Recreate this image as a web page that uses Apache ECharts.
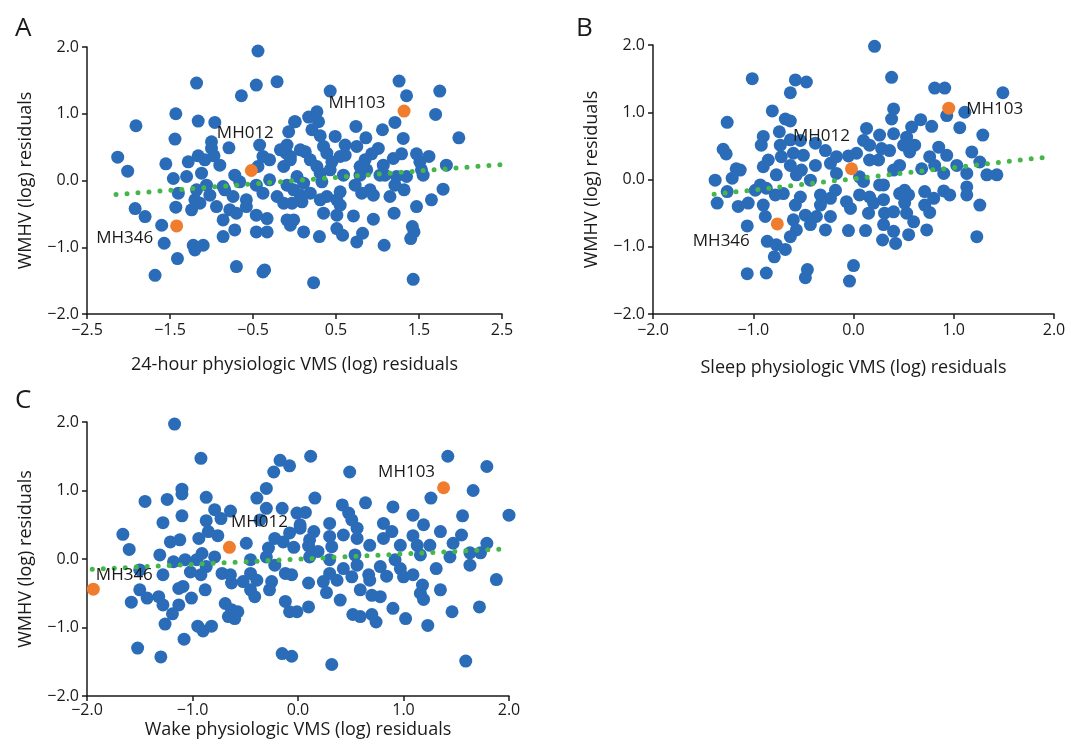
<!DOCTYPE html>
<html lang="en">
<head>
<meta charset="UTF-8">
<title>WMHV residuals vs physiologic VMS residuals</title>
<script src="https://cdn.jsdelivr.net/npm/echarts@6/dist/echarts.min.js"></script>
<style>
  html, body { margin: 0; padding: 0; background: #fff; }
  #chart { width: 1071px; height: 754px; }
</style>
</head>
<body>
<div id="chart"></div>
<script>
// ---- data ----
var aBlue = [
  [-0.44,1.94],[-1.18,1.46],[-0.46,1.43],[-0.21,1.48],[-0.64,1.27],[-1.43,1.00],[-1.91,0.82],[-1.16,0.89],[-0.96,0.87],[-1.44,0.62],
  [-1.00,0.58],[-1.00,0.48],[-0.79,0.49],[-2.13,0.35],[-2.01,0.14],[-1.55,0.25],[-1.28,0.28],[-1.16,0.37],[-0.97,0.37],[-0.42,0.53],
  [-0.38,0.36],[-0.44,0.21],[-0.10,0.41],[-0.09,0.53],[-0.07,0.73],[0.00,0.88],[-0.13,0.21],[-0.05,0.31],[-1.30,0.06],[-1.12,0.11],
  [-1.46,0.03],[1.26,1.49],[0.43,1.34],[1.35,1.27],[1.75,1.34],[1.70,0.99],[1.98,0.64],[1.21,0.87],[1.06,0.76],[1.31,0.63],
  [0.86,0.64],[0.74,0.81],[0.27,1.03],[0.17,0.95],[0.29,0.88],[0.01,0.88],[0.21,0.76],[0.31,0.67],[0.49,0.66],[0.61,0.53],
  [0.75,0.51],[0.35,0.51],[0.39,0.41],[0.13,0.43],[-0.05,0.36],[0.55,0.36],[0.93,0.40],[1.01,0.48],[1.29,0.40],[1.47,0.40],
  [1.62,0.36],[1.19,0.33],[1.51,0.28],[1.83,0.23],[0.27,0.21],[0.79,0.21],[1.07,0.23],[0.45,0.28],[0.87,0.16],[1.53,0.16],
  [0.03,0.06],[0.31,0.11],[0.59,0.08],[1.35,0.06],[-1.06,-0.07],[-1.40,-0.19],[-1.18,-0.14],[-0.86,-0.09],[-0.66,-0.02],[-0.46,-0.07],
  [-0.30,0.01],[-0.09,-0.07],[-0.74,-0.24],[-0.58,-0.29],[-0.38,-0.19],[-0.21,-0.24],[-0.01,-0.14],[-0.94,-0.39],[-0.78,-0.44],[-0.58,-0.39],
  [-1.92,-0.42],[-1.80,-0.54],[-1.43,-0.40],[-1.24,-0.44],[-1.14,-0.34],[-0.86,-0.59],[-0.70,-0.49],[-0.46,-0.52],[-0.33,-0.57],[-0.13,-0.34],
  [-0.09,-0.59],[-1.60,-0.67],[-0.86,-0.84],[-0.72,-0.74],[-0.46,-0.77],[-0.33,-0.77],[-0.05,-0.67],[-1.57,-0.94],[-1.22,-0.97],[-1.10,-0.97],
  [-1.20,-1.04],[-1.41,-1.17],[-0.70,-1.29],[-0.38,-1.37],[-0.36,-1.34],[-1.68,-1.42],[0.11,-0.04],[0.33,-0.02],[0.79,0.08],[1.09,0.08],
  [1.23,0.06],[1.55,0.08],[0.19,-0.19],[0.39,-0.24],[0.55,-0.17],[0.81,-0.19],[0.95,-0.22],[0.51,-0.29],[-0.03,-0.34],[0.09,-0.32],
  [1.15,-0.24],[1.32,-0.14],[1.79,-0.13],[1.65,-0.29],[1.47,-0.39],[0.35,-0.49],[0.51,-0.52],[0.71,-0.53],[-0.01,-0.59],[0.95,-0.58],
  [1.20,-0.49],[0.51,-0.72],[0.58,-0.82],[0.11,-0.77],[0.30,-0.84],[0.82,-0.79],[0.75,-0.92],[1.08,-0.97],[1.42,-0.69],[1.44,-0.77],
  [1.40,-0.87],[0.23,-1.53],[1.43,-1.48],
  [0.07,0.46],[0.19,0.31],[0.43,0.16],[0.61,0.38],[0.73,-0.07],[0.85,0.31],[0.91,-0.14],[1.03,0.08],[1.21,-0.07],[0.07,-0.22],
  [0.31,-0.29],[0.55,-0.37],[-0.30,0.31],[-0.17,0.46],[-0.72,0.08],[-0.90,0.23],[-1.08,0.31],[-0.84,-0.14],[-1.02,-0.22],[-1.20,-0.29]
];
var bBlue = [
  [-1.01,1.50],[-0.58,1.48],[-0.47,1.45],[-0.63,1.29],[-0.81,1.02],[-0.68,0.90],[-0.63,0.87],[-1.26,0.85],[-0.74,0.71],[-0.90,0.64],
  [-0.92,0.51],[-0.63,0.59],[-0.38,0.54],[-1.30,0.45],[-1.27,0.38],[-0.85,0.29],[-0.72,0.34],[-0.60,0.39],[-0.50,0.36],[-0.90,0.19],
  [-1.17,0.16],[-0.38,0.21],[-0.23,0.24],[-0.17,0.34],[-0.05,0.35],[-0.77,0.07],[-0.57,0.07],[-0.52,0.14],[-0.17,0.09],[-1.38,-0.01],
  [-1.21,0.02],[0.21,1.98],[0.38,1.52],[0.81,1.36],[0.91,1.36],[1.49,1.29],[0.93,0.95],[1.11,1.00],[0.40,1.05],[0.38,0.90],
  [0.67,0.89],[0.58,0.78],[0.78,0.79],[1.06,0.77],[1.29,0.66],[0.13,0.76],[0.26,0.66],[0.40,0.68],[0.53,0.63],[0.10,0.58],
  [0.16,0.51],[0.28,0.46],[0.50,0.51],[0.56,0.41],[0.85,0.48],[0.93,0.36],[1.18,0.41],[0.03,0.39],[0.25,0.29],[0.76,0.34],
  [1.03,0.21],[1.26,0.26],[0.40,0.14],[0.68,0.16],[0.90,0.09],[1.13,0.09],[1.33,0.07],[1.43,0.07],[0.06,0.04],[-1.26,-0.18],
  [-1.36,-0.35],[-1.15,-0.40],[-1.05,-0.35],[-0.98,-0.16],[-0.87,-0.13],[-0.90,-0.38],[-0.88,-0.55],[-0.70,-0.21],[-0.53,-0.26],[-0.33,-0.23],
  [-0.23,-0.28],[-0.07,-0.33],[-0.03,-0.43],[-1.06,-0.69],[-0.60,-0.60],[-0.48,-0.53],[-0.37,-0.55],[-0.23,-0.55],[-0.57,-0.75],[-0.43,-0.67],
  [-0.28,-0.75],[-0.05,-0.76],[-0.86,-0.92],[-0.77,-0.97],[-0.68,-1.04],[-0.63,-0.85],[-0.79,-1.15],[-1.06,-1.40],[-0.87,-1.39],[-0.46,-1.34],
  [-0.48,-1.46],[0.00,-1.28],[-0.04,-1.51],[0.10,-0.03],[0.30,-0.08],[1.13,-0.11],[1.13,-0.23],[0.16,-0.26],[0.20,-0.35],[0.30,-0.30],
  [0.46,-0.21],[0.55,-0.23],[0.51,-0.35],[0.71,-0.18],[0.80,-0.28],[0.90,-0.17],[0.15,-0.50],[0.31,-0.50],[0.40,-0.48],[0.53,-0.50],
  [0.60,-0.63],[0.76,-0.49],[0.30,-0.67],[0.12,-0.76],[0.40,-0.77],[0.55,-0.82],[0.73,-0.75],[0.29,-0.90],[0.42,-0.95],[1.26,-0.38],
  [1.23,-0.85],
  [-0.73,0.51],[-0.53,0.58],[-0.28,0.43],[0.16,0.29],[0.36,0.43],[0.46,0.21],[0.61,0.51],[0.81,0.21],[0.26,-0.08],[0.51,-0.16],
  [0.06,-0.23],[-0.33,-0.38],[-0.58,-0.38],[-0.78,-0.23],[-0.93,-0.08],[-1.13,0.14],[-0.63,0.21],[-0.43,-0.01],[-0.18,-0.16],[0.96,-0.23],
  [0.71,-0.38]
];
var cBlue = [
  [-1.17,1.97],[-0.92,1.47],[-0.17,1.44],[-0.08,1.36],[-0.23,1.27],[-0.30,1.03],[-1.10,1.02],[-1.10,0.95],[-1.45,0.84],[-1.24,0.87],
  [-0.87,0.90],[-0.39,0.89],[-0.30,0.74],[-0.15,0.74],[-0.64,0.70],[-1.10,0.63],[-1.28,0.53],[-0.87,0.56],[-0.73,0.59],[-1.66,0.36],
  [-1.60,0.14],[-1.21,0.25],[-0.94,0.30],[-0.85,0.40],[-0.76,0.34],[-0.49,0.23],[-0.28,0.16],[-0.22,0.30],[-0.14,0.25],[-0.04,0.17],
  [-0.01,0.67],[0.12,1.50],[1.42,1.50],[1.79,1.35],[0.49,1.27],[1.66,1.00],[1.26,0.89],[0.16,0.89],[0.64,0.82],[0.42,0.79],
  [0.90,0.76],[0.07,0.68],[0.48,0.67],[1.09,0.64],[1.56,0.63],[2.00,0.64],[0.51,0.57],[0.81,0.52],[1.19,0.50],[0.30,0.52],
  [0.02,0.45],[0.15,0.40],[0.56,0.45],[0.89,0.40],[1.35,0.40],[1.55,0.35],[-0.08,0.38],[0.30,0.33],[0.43,0.35],[1.09,0.34],
  [1.79,0.23],[0.10,0.19],[0.32,0.18],[0.56,0.30],[0.81,0.30],[0.97,0.20],[1.13,0.20],[1.25,0.20],[1.47,0.23],[1.63,0.09],
  [1.73,0.09],[1.44,0.03],[0.19,0.11],[-1.28,-0.23],[-1.18,-0.04],[-1.07,-0.01],[-1.02,-0.19],[-0.96,-0.01],[-0.91,0.08],[-0.87,-0.11],
  [-0.79,0.03],[-0.72,-0.21],[-0.63,-0.35],[-0.52,-0.33],[-0.45,-0.21],[-0.39,-0.31],[-0.45,-0.45],[-0.41,-0.55],[-0.30,0.03],[-0.22,-0.09],
  [-0.25,-0.33],[-0.12,-0.21],[-0.06,-0.23],[-0.12,-0.62],[-0.08,-0.77],[-0.01,-0.77],[-0.92,-0.23],[-1.50,-0.45],[-1.43,-0.57],[-1.58,-0.63],
  [-1.32,-0.55],[-1.28,-0.67],[-1.13,-0.43],[-1.09,-0.40],[-1.01,-0.57],[-1.13,-0.67],[-1.19,-0.80],[-1.26,-0.95],[-0.95,-0.98],[-0.90,-1.05],
  [-0.82,-0.98],[-0.69,-0.65],[-0.63,-0.74],[-0.66,-0.84],[-0.57,-0.77],[-0.60,-0.87],[-1.08,-1.17],[-1.52,-1.30],[-1.30,-1.43],[-0.15,-1.38],
  [-0.06,-1.42],[0.10,-0.35],[0.10,-0.70],[0.24,-0.33],[0.27,-0.49],[0.30,-0.21],[0.37,-0.31],[0.51,-0.26],[0.43,-0.14],[0.56,-0.09],
  [0.67,-0.23],[0.68,-0.31],[0.78,-0.11],[0.84,-0.25],[0.97,-0.14],[1.00,-0.26],[1.09,-0.23],[1.31,-0.14],[1.88,-0.30],[0.70,-0.53],
  [0.78,-0.55],[1.18,-0.38],[1.16,-0.50],[1.19,-0.59],[0.90,-0.72],[1.46,-0.77],[1.72,-0.70],[0.52,-0.81],[0.59,-0.84],[0.70,-0.81],
  [0.74,-0.92],[1.02,-0.87],[1.23,-0.97],[0.32,-1.54],[1.59,-1.49],[0.11,0.03],
  [0.11,0.28],[0.30,-0.01],[0.54,0.06],[0.68,0.20],[0.92,-0.01],[1.16,0.06],[-0.45,-0.01],[-0.64,-0.23],[-0.27,-0.45],[-0.88,-0.45],
  [-1.12,0.28],[-1.31,0.06],[-1.50,-0.16],[0.59,-0.45],[0.40,-0.60],[1.35,-0.45],[1.63,-0.09],[0.02,0.50],[-0.36,0.57],[-0.79,0.72]
];

var hlNames = ['MH012', 'MH103', 'MH346'];
var aHigh = [[-0.52, 0.15], [1.32, 1.04], [-1.42, -0.68]];
var bHigh = [[-0.02, 0.16], [0.95, 1.06], [-0.76, -0.66]];
var cHigh = [[-0.65, 0.17], [1.38, 1.04], [-1.94, -0.44]];
// label offsets (px) of each name from its point
var aLabelOff = [[-6, -37], [-47, -8], [-52, 12]];
var bLabelOff = [[-30, -33], [46, 1], [-56, 17]];
var cLabelOff = [[30, -25], [-37, -16], [31, -14]];

// fitted line end points
var aTrend = [[-2.15, -0.21], [2.5, 0.24]];
var bTrend = [[-1.39, -0.22], [1.97, 0.34]];
var cTrend = [[-1.95, -0.15], [2.0, 0.15]];

var aXTicks = [-2.5, -1.5, -0.5, 0.5, 1.5, 2.5];
var bcXTicks = [-2, -1, 0, 1, 2];
var yTicks = [-2, -1, 0, 1, 2];

var xNames = ['24-hour physiologic VMS (log) residuals', 'Sleep physiologic VMS (log) residuals', 'Wake physiologic VMS (log) residuals'];
var yName = 'WMHV (log) residuals';
var panelLetters = ['A', 'B', 'C'];

// ---- styling ----
var BLUE = '#2b6cb8', ORANGE = '#f07d2e', GREEN = '#45b649', INK = '#1a1a1a';
var FONT = '"Open Sans", "Noto Sans", sans-serif';

function fmt(v) {
    var s = Math.abs(v).toFixed(1);
    return (v < -1e-9 ? '\u2212' : '') + s;
}

function axisBase() {
    return {
        type: 'value',
        axisLine: { show: true, onZero: false, lineStyle: { color: INK, width: 1.5 } },
        axisTick: { show: true, inside: false, length: 5, lineStyle: { color: INK, width: 1.5 } },
        axisLabel: { color: INK, fontSize: 16, fontFamily: FONT, formatter: fmt, margin: 8 },
        splitLine: { show: false },
        nameTextStyle: { color: INK, fontSize: 18, fontFamily: FONT }
    };
}

function xAxis(i, min, max, ticks, gap, margin, showName) {
    var ax = axisBase();
    ax.gridIndex = i; ax.min = min; ax.max = max; ax.interval = 0.5;
    ax.axisTick.customValues = ticks;
    ax.axisLabel.customValues = ticks;
    ax.axisLabel.margin = margin;
    if (showName) { ax.name = xNames[i]; ax.nameLocation = 'middle'; ax.nameGap = gap; }
    return ax;
}
function yAxis(i) {
    var ax = axisBase();
    ax.gridIndex = i; ax.min = -2; ax.max = 2; ax.interval = 1;
    ax.axisLabel.customValues = yTicks;
    ax.axisTick.customValues = yTicks;
    ax.name = yName; ax.nameLocation = 'middle'; ax.nameGap = 52;
    return ax;
}

function blueSeries(i, pts) {
    return { type: 'scatter', xAxisIndex: i, yAxisIndex: i, data: pts, symbolSize: 13,
             itemStyle: { color: BLUE, opacity: 1 }, silent: true, z: 2 };
}
function trendSeries(i, pts) {
    return { type: 'line', xAxisIndex: i, yAxisIndex: i, data: pts, symbol: 'none', silent: true, z: 3,
             lineStyle: { color: GREEN, width: 5, type: [0, 11], cap: 'round' } };
}
function highSeries(i, pts, offs) {
    return { type: 'scatter', xAxisIndex: i, yAxisIndex: i, symbolSize: 13, silent: true, z: 4,
             itemStyle: { color: ORANGE, opacity: 1 },
             data: pts.map(function (p, k) {
                 return { name: hlNames[k], value: p,
                          label: { show: true, position: 'inside', offset: offs[k], formatter: '{b}',
                                   color: INK, fontSize: 17, fontFamily: FONT,
                                   textBorderWidth: 0, textBorderColor: 'transparent' } };
             }) };
}

var chart = echarts.init(document.getElementById('chart'), null, { renderer: 'canvas' });

var option = {
    backgroundColor: '#fff',
    animation: false,
    title: panelLetters.map(function (t, k) {
        var pos = [[10, 11], [571, 11], [10, 383]][k];
        return { text: t, left: pos[0], top: pos[1],
                 textStyle: { color: INK, fontSize: 26, fontWeight: 'normal', fontFamily: FONT } };
    }),
    // panel C's x-axis title sits tight under its tick labels
    graphic: [{
        type: 'text', x: 298, y: 730, silent: true,
        style: { text: xNames[2], fill: INK, font: '18px ' + FONT, align: 'center', verticalAlign: 'middle' }
    }],
    grid: [
        { left: 87, top: 47, width: 415, height: 267 },
        { left: 653, top: 45, width: 401, height: 269 },
        { left: 87, top: 422, width: 422, height: 274 }
    ],
    xAxis: [
        xAxis(0, -2.5, 2.5, aXTicks, 42, 8, true),
        xAxis(1, -2, 2, bcXTicks, 45, 8, true),
        xAxis(2, -2, 2, bcXTicks, 0, 6, false)
    ],
    yAxis: [yAxis(0), yAxis(1), yAxis(2)],
    series: [
        blueSeries(0, aBlue), trendSeries(0, aTrend), highSeries(0, aHigh, aLabelOff),
        blueSeries(1, bBlue), trendSeries(1, bTrend), highSeries(1, bHigh, bLabelOff),
        blueSeries(2, cBlue), trendSeries(2, cTrend), highSeries(2, cHigh, cLabelOff)
    ]
};

chart.setOption(option);

window.addEventListener('resize', function () {
    chart.resize();
});
</script>
</body>
</html>
